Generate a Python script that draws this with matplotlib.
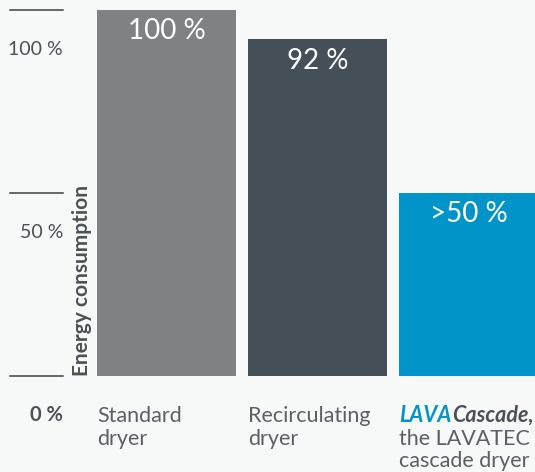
import matplotlib.pyplot as plt
from matplotlib.transforms import blended_transform_factory

plt.rcParams['font.family'] = ['Lato', 'DejaVu Sans']

labels = [['Standard', 'dryer'], ['Recirculating', 'dryer'], ['the LAVATEC', 'cascade dryer']]
values = [100, 92, 50]
value_text = ['100 %', '92 %', '>50 %']
colors = ['#808184', '#444f58', '#0094c8']
ticks = [100, 50, 0]
tick_text = ['100 %', '50 %', '0 %']

W, H = 535, 472
fig = plt.figure(figsize=(W / 100, H / 100), dpi=100)
fig.patch.set_facecolor('#f7f8f8')

# axes spans bar area: left 97px, bottom at 376px from top
ax = fig.add_axes([97 / W, (H - 376) / H, (W - 97) / W, 366 / H])
ax.set_facecolor('none')
x = range(len(values))
ax.bar(x, values, width=139 / 151, color=colors)
ax.set_xlim(-0.46, 2 + (W - 399) / 151 - 0.46)
ax.set_ylim(0, 100)
ax.axis(False)

for i, (v, t) in enumerate(zip(values, value_text)):
    ax.text(i, v - 2.3, t, color='white', fontsize=20, ha='center', va='top')

tr = blended_transform_factory(fig.transFigure, ax.transData)
for tk, tt in zip(ticks, tick_text):
    ax.plot([10 / W, 63 / W], [tk, tk], transform=tr, color='#3c4247',
            lw=1.1, clip_on=False)
    bold = 'bold' if tk == 0 else 'normal'
    size = 14.5 if tk == 0 else 14
    ax.text(63 / W, tk - 10.7, tt, transform=tr, ha='right', va='center',
            fontsize=size, color='#4a5157', fontweight=bold)

fig.text(82 / W, (H - 376) / H, 'Energy consumption', rotation=90,
         ha='center', va='bottom', fontsize=15, fontweight='bold', color='#4a5157')

# category labels below bars, one baseline per line
lx = [97, 248, 399]
base = [422, 445, 467]
lab_color = '#5a6066'
for i, lines in enumerate(labels):
    rows = base[:2] if i < 2 else base[1:]
    for ln, y in zip(lines, rows):
        fig.text(lx[i] / W, (H - y) / H, ln, fontsize=15.5, color=lab_color,
                 va='baseline', ha='left')

t1 = fig.text(399 / W, (H - base[0]) / H, 'LAVA', fontsize=15.5, color='#0094c8',
              fontweight='bold', fontstyle='italic', va='baseline', ha='left')
fig.canvas.draw()
bb = t1.get_window_extent()
fig.text(bb.x1 / W + 1 / W, (H - base[0]) / H, 'Cascade,', fontsize=15.5, color='#4a5157',
         fontweight='bold', fontstyle='italic', va='baseline', ha='left')

fig.savefig('out.png', dpi=100, facecolor=fig.get_facecolor())
